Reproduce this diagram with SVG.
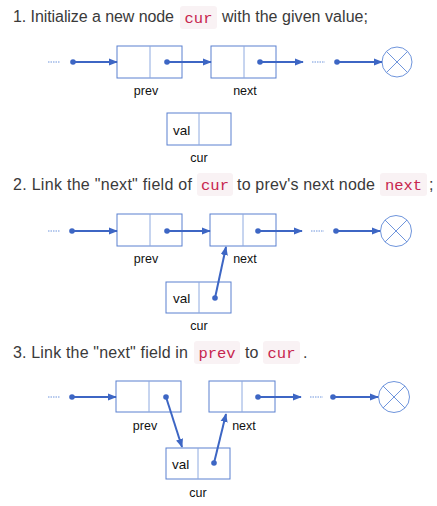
<svg xmlns="http://www.w3.org/2000/svg" width="437" height="506" viewBox="0 0 437 506">
<defs>
<marker id="ah" viewBox="0 0 10 10" refX="9" refY="5" markerWidth="4.5" markerHeight="4.5" orient="auto" markerUnits="strokeWidth">
<path d="M0,1 L10,5 L0,9 z" fill="#3d66c4"/>
</marker>
</defs>
<style>
.t{font-family:"Liberation Sans",Arial,sans-serif;font-size:16px;fill:#3a3a3a}
.c{font-family:"Liberation Mono","DejaVu Sans Mono",monospace;font-size:15.5px;fill:#c7254e}
.chip{fill:#f9f2f4}
.box{fill:#fff;stroke:#5a80d0;stroke-width:1}
.div{stroke:#8eaae0;stroke-width:1}
.lbl{font-family:"Liberation Sans",Arial,sans-serif;font-size:12.5px;fill:#111;text-anchor:middle}
.val{font-family:"Liberation Sans",Arial,sans-serif;font-size:13.5px;fill:#111}
.ln{stroke:#3d66c4;stroke-width:2;fill:none;marker-end:url(#ah)}
.dot{fill:#3d66c4}
.dots{stroke:#6f95dc;stroke-width:1;stroke-dasharray:1.5 1}
.nil{fill:#fff;stroke:#6f95dc;stroke-width:1}
</style>

<g id="title1">
<text class="t" x="13" y="22" textLength="161" lengthAdjust="spacing">1. Initialize a new node</text>
<rect class="chip" x="180" y="6" width="37" height="23" rx="3"/>
<text class="c" x="198.5" y="23" text-anchor="middle">cur</text>
<text class="t" x="222" y="22" textLength="146" lengthAdjust="spacing">with the given value;</text>
</g>

<g id="diagram1">
<g id="d1-nodes">
<g id="d1-prev"><rect class="box" x="117" y="46" width="65" height="32"/><line class="div" x1="150" y1="46" x2="150" y2="78"/><text class="lbl" x="146" y="95">prev</text></g>
<g id="d1-next"><rect class="box" x="211" y="46" width="65" height="32"/><line class="div" x1="244" y1="46" x2="244" y2="78"/><text class="lbl" x="245" y="95">next</text></g>
<g id="d1-cur"><rect class="box" x="167" y="113" width="64" height="32"/><line class="div" x1="199" y1="113" x2="199" y2="145"/><text class="val" x="173" y="135">val</text><text class="lbl" x="199" y="162">cur</text></g>
<g id="d1-null"><circle class="nil" cx="397" cy="62" r="15"/><path class="nil" d="M386.4,51.4 L407.6,72.6 M407.6,51.4 L386.4,72.6"/></g>
</g>
<g id="d1-connectors">
<line class="dots" x1="48" y1="62" x2="60" y2="62"/>
<line class="dots" x1="312" y1="62" x2="325" y2="62"/>
<circle class="dot" cx="73" cy="62" r="2.8"/><line class="ln" x1="73" y1="62" x2="117" y2="62"/>
<circle class="dot" cx="167" cy="62" r="2.8"/><line class="ln" x1="167" y1="62" x2="211" y2="62"/>
<circle class="dot" cx="260" cy="62" r="2.8"/><line class="ln" x1="260" y1="62" x2="303" y2="62"/>
<circle class="dot" cx="337" cy="62" r="2.8"/><line class="ln" x1="337" y1="62" x2="382" y2="62"/>
</g>
</g>

<g id="title2">
<text class="t" x="13" y="190" textLength="179" lengthAdjust="spacing">2. Link the "next" field of</text>
<rect class="chip" x="197" y="173" width="36" height="23" rx="3"/>
<text class="c" x="215" y="190" text-anchor="middle">cur</text>
<text class="t" x="237" y="190" textLength="138" lengthAdjust="spacing">to prev's next node</text>
<rect class="chip" x="380" y="173" width="47" height="23" rx="3"/>
<text class="c" x="403.5" y="190" text-anchor="middle">next</text>
<text class="t" x="429" y="190">;</text>
</g>

<g id="diagram2" transform="translate(0,168)">
<g id="d2-nodes">
<g id="d2-prev"><rect class="box" x="117" y="46" width="65" height="32"/><line class="div" x1="150" y1="46" x2="150" y2="78"/><text class="lbl" x="146" y="95">prev</text></g>
<g id="d2-next"><rect class="box" x="210" y="46" width="66" height="32"/><line class="div" x1="243" y1="46" x2="243" y2="78"/><text class="lbl" x="245" y="95">next</text></g>
<g id="d2-cur"><rect class="box" x="166" y="114" width="65" height="31"/><line class="div" x1="199" y1="114" x2="199" y2="145"/><text class="val" x="173" y="135">val</text><text class="lbl" x="199" y="162">cur</text></g>
<g id="d2-null"><circle class="nil" cx="396" cy="63" r="15.5"/><path class="nil" d="M385,52 L407,74 M407,52 L385,74"/></g>
</g>
<g id="d2-connectors">
<line class="dots" x1="48" y1="63" x2="60" y2="63"/>
<line class="dots" x1="311" y1="63" x2="324" y2="63"/>
<circle class="dot" cx="72" cy="63" r="2.8"/><line class="ln" x1="72" y1="63" x2="117" y2="63"/>
<circle class="dot" cx="167" cy="63" r="2.8"/><line class="ln" x1="167" y1="63" x2="210" y2="63"/>
<circle class="dot" cx="258" cy="63" r="2.8"/><line class="ln" x1="258" y1="63" x2="302" y2="63"/>
<circle class="dot" cx="336" cy="63" r="2.8"/><line class="ln" x1="336" y1="63" x2="380" y2="63"/>
<circle class="dot" cx="215" cy="130" r="2.8"/><line class="ln" x1="215" y1="130" x2="226" y2="79"/>
</g>
</g>

<g id="title3">
<text class="t" x="13" y="358" textLength="175" lengthAdjust="spacing">3. Link the "next" field in</text>
<rect class="chip" x="194" y="341" width="46" height="23" rx="3"/>
<text class="c" x="217" y="358" text-anchor="middle">prev</text>
<text class="t" x="245" y="358">to</text>
<rect class="chip" x="263" y="341" width="37" height="23" rx="3"/>
<text class="c" x="281.5" y="358" text-anchor="middle">cur</text>
<text class="t" x="303" y="358">.</text>
</g>

<g id="diagram3" transform="translate(-1,335)">
<g id="d3-nodes">
<g id="d3-prev"><rect class="box" x="117" y="46" width="65" height="31"/><line class="div" x1="150" y1="46" x2="150" y2="77"/><text class="lbl" x="146" y="95">prev</text></g>
<g id="d3-next"><rect class="box" x="210" y="46" width="66" height="31"/><line class="div" x1="243" y1="46" x2="243" y2="77"/><text class="lbl" x="245" y="95">next</text></g>
<g id="d3-cur"><rect class="box" x="167" y="113" width="64" height="31"/><line class="div" x1="199" y1="113" x2="199" y2="144"/><text class="val" x="173" y="134">val</text><text class="lbl" x="199" y="162">cur</text></g>
<g id="d3-null"><circle class="nil" cx="395" cy="62" r="15.5"/><path class="nil" d="M384,51 L406,73 M406,51 L384,73"/></g>
</g>
<g id="d3-connectors">
<line class="dots" x1="49" y1="62" x2="61" y2="62"/>
<line class="dots" x1="311" y1="62" x2="324" y2="62"/>
<circle class="dot" cx="73" cy="62" r="2.8"/><line class="ln" x1="73" y1="62" x2="117" y2="62"/>
<circle class="dot" cx="167" cy="62" r="2.8"/><line class="ln" x1="167" y1="62" x2="183" y2="112"/>
<circle class="dot" cx="259" cy="62" r="2.8"/><line class="ln" x1="259" y1="62" x2="302" y2="62"/>
<circle class="dot" cx="334" cy="62" r="2.8"/><line class="ln" x1="334" y1="62" x2="379" y2="62"/>
<circle class="dot" cx="215" cy="128" r="2.8"/><line class="ln" x1="215" y1="128" x2="227" y2="79"/>
</g>
</g>
</svg>
